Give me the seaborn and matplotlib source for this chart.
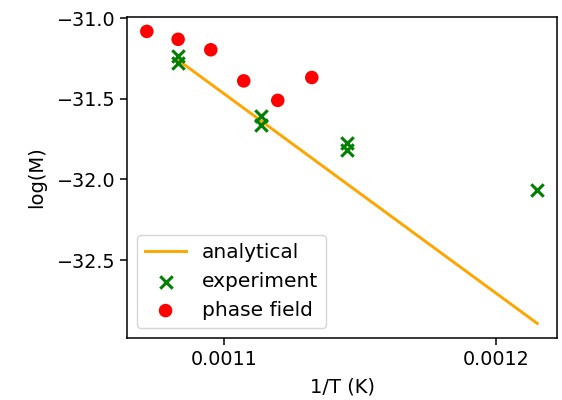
import matplotlib
matplotlib.use("Agg")
import matplotlib.pyplot as plt
import seaborn as sns
import pandas as pd

# analytical line (1/T, log M)
ana_x = [0.0010831, 0.0011134, 0.0011451, 0.0012150]
ana_y = [-31.259, -31.634, -32.027, -32.893]

# experiment points
exp_x = [0.0010831, 0.0010831, 0.0011134, 0.0011134, 0.0011451, 0.0011451, 0.0012150]
exp_y = [-31.236, -31.280, -31.605, -31.663, -31.775, -31.816, -32.066]

# phase field points
pf_x = [0.0010716, 0.0010831, 0.0010951, 0.0011072, 0.0011197, 0.0011322]
pf_y = [-31.081, -31.130, -31.195, -31.388, -31.509, -31.367]

plt.rcParams["font.size"] = 13.8
fig, ax = plt.subplots(figsize=(5.62, 4.0), dpi=100)
fig.subplots_adjust(left=0.2265, right=0.9906, top=0.958, bottom=0.155)

sns.lineplot(x=ana_x, y=ana_y, ax=ax, color="orange", linewidth=2.1,
             label="analytical", sort=False)
sns.scatterplot(x=exp_x, y=exp_y, ax=ax, color="green", marker="x", s=80,
                linewidth=2.2, label="experiment", zorder=3)
sns.scatterplot(x=pf_x, y=pf_y, ax=ax, color="red", marker="o", s=95,
                edgecolor="none", label="phase field", zorder=3)

ax.set_xticks([0.0011, 0.0012])
ax.set_xticklabels(["0.0011", "0.0012"])
ax.set_yticks([-31.0, -31.5, -32.0, -32.5])
ax.set_yticklabels(["\u221231.0", "\u221231.5", "\u221232.0", "\u221232.5"])
ax.tick_params(length=5, width=1.1)
for sp in ax.spines.values():
    sp.set_linewidth(1.1)
ax.set_xlabel("1/T (K)", fontsize=14, labelpad=6)
ax.set_ylabel("log(M)", fontsize=14, labelpad=8)
ax.legend(loc="lower left", fontsize=14.5)

fig.savefig("out.png", dpi=100)
